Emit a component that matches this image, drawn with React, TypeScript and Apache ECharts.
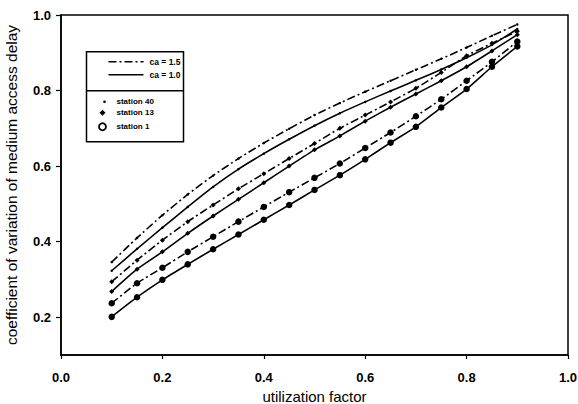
import React, { useEffect, useRef } from "react";
import * as echarts from "echarts";

const utilization = [0.1, 0.15, 0.2, 0.25, 0.3, 0.35, 0.4, 0.45, 0.5, 0.55, 0.6, 0.65, 0.7, 0.75, 0.8, 0.85, 0.9];

const station40Ca15 = [0.346, 0.410, 0.470, 0.525, 0.575, 0.620, 0.661, 0.699, 0.735, 0.767, 0.797, 0.826, 0.855, 0.884, 0.914, 0.945, 0.975];
const station40Ca10 = [0.323, 0.381, 0.437, 0.492, 0.545, 0.592, 0.633, 0.671, 0.707, 0.740, 0.770, 0.799, 0.827, 0.856, 0.887, 0.921, 0.963];
const station13Ca15 = [0.294, 0.351, 0.404, 0.453, 0.497, 0.540, 0.580, 0.620, 0.660, 0.700, 0.735, 0.770, 0.806, 0.848, 0.892, 0.925, 0.957];
const station13Ca10 = [0.268, 0.327, 0.373, 0.422, 0.468, 0.512, 0.556, 0.600, 0.643, 0.680, 0.719, 0.756, 0.791, 0.826, 0.863, 0.905, 0.948];
const station1Ca15 = [0.237, 0.290, 0.331, 0.373, 0.413, 0.453, 0.492, 0.531, 0.569, 0.607, 0.648, 0.689, 0.732, 0.777, 0.826, 0.876, 0.930];
const station1Ca10 = [0.201, 0.253, 0.299, 0.340, 0.380, 0.419, 0.458, 0.497, 0.537, 0.576, 0.618, 0.662, 0.704, 0.755, 0.804, 0.863, 0.917];

const xTicks = [0, 0.2, 0.4, 0.6, 0.8, 1.0];
const yTicks = [0.2, 0.4, 0.6, 0.8, 1.0];

const legendCa = ["ca = 1.5", "ca = 1.0"];
const legendStations = ["station 40", "station 13", "station 1"];

const DASHDOT = [8, 3, 2, 3];

export default function App() {
  const ref = useRef<HTMLDivElement>(null);
  useEffect(() => {
    const chart = echarts.init(ref.current!, null, { renderer: "svg" });
    const pts = (arr: number[]) => utilization.map((x, i) => [x, arr[i]]);
    const mkSeries = (name: string, arr: number[], dashed: boolean, symbol: string, size: number) => ({
      name,
      type: "line",
      data: pts(arr),
      smooth: 0.2,
      symbol,
      symbolSize: size,
      showSymbol: size > 0,
      lineStyle: { color: "#000", width: 1.6, type: dashed ? DASHDOT : "solid" },
      itemStyle: { color: "#000", borderColor: "#000", borderWidth: 0 },
      z: 3,
    });
    const font = "Liberation Sans, Arial, sans-serif";
    chart.setOption({
      animation: false,
      backgroundColor: "#fff",
      grid: {
        left: 61,
        right: 10,
        top: 15,
        bottom: 49,
        show: true,
        containLabel: false,
        outerBoundsMode: "none",
        borderColor: "#000",
        borderWidth: 1.5,
        backgroundColor: "transparent",
      },
      xAxis: {
        type: "value",
        min: 0,
        max: 1,
        interval: 0.2,
        name: "utilization factor",
        nameLocation: "middle",
        nameGap: 31,
        nameTextStyle: { fontFamily: font, fontSize: 15, color: "#000" },
        axisLine: { show: true, lineStyle: { color: "#000", width: 1.5 } },
        axisTick: { show: true, length: 4, lineStyle: { color: "#000", width: 1.2 }, customValues: xTicks },
        axisLabel: {
          color: "#000",
          fontFamily: font,
          fontSize: 13,
          fontWeight: "bold",
          margin: 16,
          customValues: xTicks,
          formatter: (v: number) => v.toFixed(1),
        },
        splitLine: { show: false },
      },
      yAxis: {
        type: "value",
        min: 0.1,
        max: 1.0,
        interval: 0.1,
        name: "coefficient of variation of medium access delay",
        nameLocation: "middle",
        nameGap: 42,
        nameTextStyle: { fontFamily: font, fontSize: 15.5, color: "#000" },
        axisLine: { show: true, lineStyle: { color: "#000", width: 1.5 } },
        axisTick: { show: true, length: 5, lineStyle: { color: "#000", width: 1.2 }, customValues: yTicks },
        axisLabel: {
          color: "#000",
          fontFamily: font,
          fontSize: 13,
          fontWeight: "bold",
          margin: 10,
          customValues: yTicks,
          formatter: (v: number) => v.toFixed(1),
        },
        splitLine: { show: false },
      },
      series: [
        mkSeries("station 40, ca = 1.5", station40Ca15, true, "circle", 2.5),
        mkSeries("station 40, ca = 1.0", station40Ca10, false, "circle", 2.5),
        mkSeries("station 13, ca = 1.5", station13Ca15, true, "diamond", 5),
        mkSeries("station 13, ca = 1.0", station13Ca10, false, "diamond", 5),
        mkSeries("station 1, ca = 1.5", station1Ca15, true, "circle", 6.5),
        mkSeries("station 1, ca = 1.0", station1Ca10, false, "circle", 6.5),
      ],
      graphic: [
        {
          type: "group",
          left: 84,
          top: 51,
          children: [
            { type: "rect", shape: { x: 0, y: 0, width: 97, height: 90 }, style: { fill: "#fff", stroke: "#000", lineWidth: 1.5 } },
            { type: "line", shape: { x1: 0, y1: 39, x2: 97, y2: 39 }, style: { stroke: "#000", lineWidth: 1.5 } },
            { type: "line", shape: { x1: 22, y1: 10, x2: 57, y2: 10 }, style: { stroke: "#000", lineWidth: 1.5, lineDash: DASHDOT } },
            { type: "text", x: 63, y: 10, style: { text: legendCa[0], fontFamily: font, fontSize: 8.5, fontWeight: "bold", fill: "#000", verticalAlign: "middle" } },
            { type: "line", shape: { x1: 22, y1: 23, x2: 57, y2: 23 }, style: { stroke: "#000", lineWidth: 1.5 } },
            { type: "text", x: 63, y: 23, style: { text: legendCa[1], fontFamily: font, fontSize: 8.5, fontWeight: "bold", fill: "#000", verticalAlign: "middle" } },
            { type: "circle", shape: { cx: 18, cy: 50, r: 1.3 }, style: { fill: "#000" } },
            { type: "text", x: 30, y: 50, style: { text: legendStations[0], fontFamily: font, fontSize: 8, fontWeight: "bold", fill: "#000", verticalAlign: "middle" } },
            { type: "polygon", shape: { points: [[16, 58], [19, 61], [16, 64], [13, 61]] }, style: { fill: "#000" } },
            { type: "text", x: 30, y: 61, style: { text: legendStations[1], fontFamily: font, fontSize: 8, fontWeight: "bold", fill: "#000", verticalAlign: "middle" } },
            { type: "circle", shape: { cx: 16, cy: 75, r: 3.5 }, style: { fill: "#fff", stroke: "#000", lineWidth: 1.8 } },
            { type: "text", x: 30, y: 75, style: { text: legendStations[2], fontFamily: font, fontSize: 8, fontWeight: "bold", fill: "#000", verticalAlign: "middle" } },
          ],
        },
      ],
    });
    return () => chart.dispose();
  }, []);
  return <div ref={ref} style={{ position: "absolute", left: 0, top: 0, width: 578, height: 404 }} />;
}
